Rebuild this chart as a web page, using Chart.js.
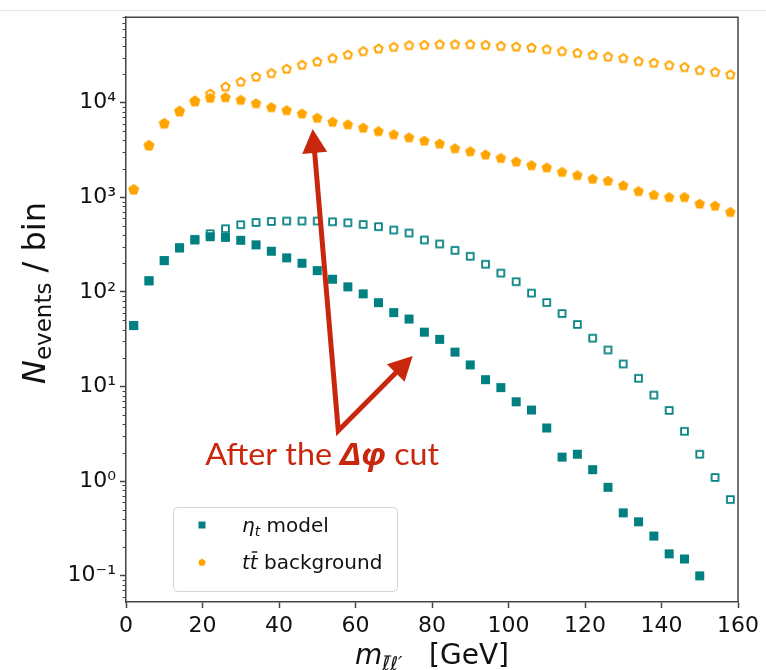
<!DOCTYPE html>
<html>
<head>
<meta charset="utf-8">
<script src="https://cdn.jsdelivr.net/npm/chart.js@4.4.0/dist/chart.umd.min.js"></script>
<style>
  html, body { margin: 0; padding: 0; background: #fff; }
  #wrap { width: 766px; height: 670px; }
</style>
</head>
<body>
<div id="wrap"><canvas id="chart" width="766" height="670"></canvas></div>
<script>
//ビン中心 m_ll' [GeV]
var mll = [2, 6, 10, 14, 18, 22, 26, 30, 34, 38, 42, 46, 50, 54, 58, 62, 66, 70, 74, 78,
           82, 86, 90, 94, 98, 102, 106, 110, 114, 118, 122, 126, 130, 134, 138, 142, 146, 150, 154, 158];

//eta_t model (after the cut, filled / before, open)
var etaCut = [44.1, 131, 214, 292, 354, 383, 377, 351, 314, 269, 229, 201, 168, 136, 113, 95.3, 76.9, 60.4, 51.6, 37.5,
              31.5, 23.1, 16.9, 11.8, 9.73, 6.89, 5.63, 3.64, 1.79, 1.92, 1.32, 0.859, 0.461, 0.371, 0.262, 0.170, 0.150, 0.0995];
var etaAll = [44.1, 131, 214, 292, 360, 412, 465, 513, 542, 555, 561, 561, 561, 551, 538, 517, 489, 451, 419, 354,
              321, 275, 238, 196, 158, 128, 97.1, 77.1, 59.0, 45.2, 32.4, 24.3, 17.3, 12.2, 8.10, 5.58, 3.36, 1.92, 1.09, 0.637];

//ttbar background (after the cut, filled / before, open)
var ttCut = [1217, 3556, 6058, 8110, 10320, 11290, 11450, 10760, 9900, 8990, 8360, 7710, 6950, 6310, 5915, 5456, 5025, 4643, 4315, 3985,
             3705, 3306, 3076, 2839, 2614, 2397, 2193, 2072, 1862, 1720, 1574, 1499, 1341, 1167, 1067, 1010, 1010, 859, 818, 702];
var ttAll = [1220, 3570, 6100, 8250, 10600, 12530, 14840, 16750, 18910, 20670, 22950, 25290, 27370, 29720, 32430, 35230, 37510, 39070, 40740, 41030,
             41700, 41700, 41700, 41030, 40070, 39370, 38430, 36980, 35230, 33800, 32200, 30910, 29720, 27660, 26540, 25100, 23920, 22230, 21190, 19990];

//軸目盛
var xTicks = [0, 20, 40, 60, 80, 100, 120, 140, 160];
var yTicks = [0.1, 1, 10, 100, 1000, 10000];
var yTickLabels = ['10\u207B\u00B9', '10\u2070', '10\u00B9', '10\u00B2', '10\u00B3', '10\u2074'];

//矢印と注記 (data coordinates)
var arrowTail = {x: 55.5, y: 3.41};
var arrowTips = [{x: 48.8, y: 5275}, {x: 74.95, y: 21.0}];
var noteAt = {x: 20.7, y: 1.46};

var TEAL = '#008080';
var ORANGE = '#ffa500';
var RED = '#c8270e';
var FONT = '"DejaVu Sans", sans-serif';

//マーカー画像
function marker(shape, size, fill, stroke, lw) {
  var c = document.createElement('canvas');
  c.width = c.height = Math.ceil(size + lw + 4);
  var g = c.getContext('2d');
  var m = c.width / 2;
  g.beginPath();
  if (shape === 'square') {
    g.rect(m - size / 2, m - size / 2, size, size);
  } else {
    for (var i = 0; i < 5; i++) {
      var a = -Math.PI / 2 + i * 2 * Math.PI / 5;
      var px = m + size / 2 * Math.cos(a), py = m + size / 2 * Math.sin(a) + size * 0.05;
      if (i) g.lineTo(px, py); else g.moveTo(px, py);
    }
    g.closePath();
  }
  g.fillStyle = fill;
  g.fill();
  if (stroke) {
    g.lineWidth = lw;
    g.strokeStyle = stroke;
    g.stroke();
  }
  return c;
}

var sqFilled = marker('square', 9, TEAL, null, 0);
var sqOpen = marker('square', 6.8, '#fff', TEAL, 1.8);
var pentFilled = marker('pent', 11, ORANGE, null, 0);
var pentOpen = marker('pent', 8.6, '#fff', ORANGE, 2);
var sqLegend = marker('square', 7, TEAL, null, 0);
var pentLegend = marker('pent', 8, ORANGE, null, 0);

function points(ys) {
  return ys.map(function (y, i) { return {x: mll[i], y: y}; });
}

//テキスト (部分ごとにフォント)
function richWidth(g, parts) {
  var w = 0;
  parts.forEach(function (p) { g.font = p.font; w += g.measureText(p.t).width; });
  return w;
}
function drawRich(g, parts, x, y) {
  parts.forEach(function (p) {
    g.font = p.font;
    g.fillText(p.t, x, y + (p.dy || 0));
    var w = g.measureText(p.t).width;
    if (p.bar) {
      g.save();
      g.lineWidth = 1.4;
      g.beginPath();
      g.moveTo(x + w * 0.25, y + (p.dy || 0) - p.bar);
      g.lineTo(x + w * 0.95, y + (p.dy || 0) - p.bar);
      g.strokeStyle = g.fillStyle;
      g.stroke();
      g.restore();
    }
    x += w;
  });
  return x;
}

var decor = {
  id: 'decor',
  beforeDraw: function (chart) {
    var g = chart.ctx;
    g.save();
    g.strokeStyle = '#e6e6e6';
    g.lineWidth = 1;
    g.beginPath();
    g.moveTo(0, 10.5);
    g.lineTo(chart.width, 10.5);
    g.stroke();
    g.restore();
  },
  afterDraw: function (chart) {
    var g = chart.ctx;
    var a = chart.chartArea;
    var xs = chart.scales.x, ys = chart.scales.y;
    g.save();

    //上と右の枠
    g.strokeStyle = '#444';
    g.lineWidth = 1.5;
    g.beginPath();
    g.moveTo(a.left, a.top);
    g.lineTo(a.right, a.top);
    g.lineTo(a.right, a.bottom);
    g.stroke();

    //補助目盛
    g.lineWidth = 1;
    g.beginPath();
    for (var d = -2; d <= 4; d++) {
      for (var k = 2; k <= 9; k++) {
        var v = k * Math.pow(10, d);
        if (v <= ys.min || v >= ys.max) continue;
        var py = Math.round(ys.getPixelForValue(v)) + 0.5;
        g.moveTo(a.left - 3.5, py);
        g.lineTo(a.left, py);
      }
    }
    g.stroke();

    //凡例
    var lx = 173.5, ly = 507.5, lw = 224, lh = 84;
    g.beginPath();
    g.roundRect(lx, ly, lw, lh, 4);
    g.fillStyle = 'rgba(255,255,255,0.8)';
    g.fill();
    g.strokeStyle = '#d4d4d4';
    g.lineWidth = 1;
    g.stroke();
    g.drawImage(sqLegend, 202 - sqLegend.width / 2, 525 - sqLegend.height / 2);
    g.drawImage(pentLegend, 202 - pentLegend.width / 2, 562 - pentLegend.height / 2);
    g.fillStyle = '#111';
    g.textBaseline = 'alphabetic';
    g.textAlign = 'left';
    drawRich(g, [
      {t: '\u03B7', font: 'italic 20px ' + FONT},
      {t: 't', font: 'italic 14px ' + FONT, dy: 4},
      {t: ' model', font: '20px ' + FONT}
    ], 242, 532);
    drawRich(g, [
      {t: 't', font: 'italic 20px ' + FONT},
      {t: 't', font: 'italic 20px ' + FONT, bar: 17},
      {t: ' background', font: '20px ' + FONT}
    ], 242, 569);

    //x軸タイトル
    var xParts = [
      {t: 'm', font: 'italic 28px ' + FONT},
      {t: '\u2113\u2113\u2032', font: 'italic 19px ' + FONT, dy: 6},
      {t: '   [GeV]', font: '28px ' + FONT}
    ];
    var xw = richWidth(g, xParts);
    var x0 = (a.left + a.right) / 2 - xw / 2;
    drawRich(g, xParts, x0, 664);
    g.font = 'italic 28px ' + FONT;
    var mw = g.measureText('m').width;
    g.font = 'italic 19px ' + FONT;
    var lw1 = g.measureText('\u2113').width;
    g.beginPath();
    g.lineWidth = 1.2;
    g.strokeStyle = '#111';
    g.moveTo(x0 + mw + 2, 656);
    g.lineTo(x0 + mw + lw1 + 1, 656);
    g.stroke();

    //y軸タイトル
    var yParts = [
      {t: 'N', font: 'italic 32px ' + FONT},
      {t: 'events', font: '23px ' + FONT, dy: 6},
      {t: ' / bin', font: '32px ' + FONT}
    ];
    var yw = richWidth(g, yParts);
    g.translate(45, 293);
    g.rotate(-Math.PI / 2);
    drawRich(g, yParts, -yw / 2, 0);
    g.setTransform(1, 0, 0, 1, 0, 0);

    //矢印
    g.fillStyle = RED;
    g.strokeStyle = RED;
    var tx = xs.getPixelForValue(arrowTail.x), ty = ys.getPixelForValue(arrowTail.y);
    var bases = arrowTips.map(function (p) {
      var hx = xs.getPixelForValue(p.x), hy = ys.getPixelForValue(p.y);
      var ang = Math.atan2(hy - ty, hx - tx);
      var len = 24, half = 12.5;
      var bx = hx - len * Math.cos(ang), by = hy - len * Math.sin(ang);
      g.beginPath();
      g.moveTo(hx, hy);
      g.lineTo(bx + half * Math.sin(ang), by - half * Math.cos(ang));
      g.lineTo(bx - half * Math.sin(ang), by + half * Math.cos(ang));
      g.closePath();
      g.fill();
      return {x: bx + 3 * Math.cos(ang), y: by + 3 * Math.sin(ang)};
    });
    g.lineWidth = 5;
    g.lineJoin = 'miter';
    g.lineCap = 'butt';
    g.beginPath();
    g.moveTo(bases[0].x, bases[0].y);
    g.lineTo(tx, ty);
    g.lineTo(bases[1].x, bases[1].y);
    g.stroke();

    //注記
    var nParts = [
      {t: 'After the ', font: '30px Lato, "Noto Sans", sans-serif'},
      {t: '\u0394\u03C6', font: 'italic bold 30px "Noto Sans", sans-serif'},
      {t: ' cut', font: '30px Lato, "Noto Sans", sans-serif'}
    ];
    var nw = richWidth(g, nParts);
    var sc = 234 / nw;
    g.translate(xs.getPixelForValue(noteAt.x), ys.getPixelForValue(noteAt.y));
    g.scale(sc, 1);
    drawRich(g, nParts, 0, 0);
    g.restore();
  }
};

var ctx = document.getElementById('chart');
var chart = new Chart(ctx, {
  type: 'scatter',
  data: {
    datasets: [{
      label: 'eta_t model',
      data: points(etaCut),
      pointStyle: sqFilled,
      pointRadius: 5,
      order: 0
    }, {
      label: 'ttbar background',
      data: points(ttCut),
      pointStyle: pentFilled,
      pointRadius: 5,
      order: 0
    }, {
      label: 'eta_t model (no cut)',
      data: points(etaAll),
      pointStyle: sqOpen,
      pointRadius: 5,
      order: 1
    }, {
      label: 'ttbar background (no cut)',
      data: points(ttAll),
      pointStyle: pentOpen,
      pointRadius: 5,
      order: 1
    }]
  },
  options: {
    responsive: false,
    animation: false,
    layout: {
      padding: {top: 14, right: 28, left: 0, bottom: 0}
    },
    plugins: {
      legend: { display: false },
      tooltip: { enabled: false }
    },
    scales: {
      x: {
        type: 'linear',
        min: 0,
        max: 160,
        afterBuildTicks: function (axis) {
          axis.ticks = xTicks.map(function (v) { return {value: v}; });
        },
        afterFit: function (axis) { axis.height = 68; },
        grid: { drawOnChartArea: false, tickLength: 6, tickColor: '#444', tickWidth: 1.5 },
        border: { display: true, color: '#444', width: 1.5 },
        ticks: {
          autoSkip: false,
          maxRotation: 0,
          padding: 5,
          color: '#111',
          font: { family: 'DejaVu Sans', size: 22 }
        }
      },
      y: {
        type: 'logarithmic',
        min: 0.0526,
        max: 80200,
        afterBuildTicks: function (axis) {
          axis.ticks = yTicks.map(function (v) { return {value: v}; });
        },
        afterFit: function (axis) { axis.width = 126; },
        grid: { drawOnChartArea: false, tickLength: 6, tickColor: '#444', tickWidth: 1.5 },
        border: { display: true, color: '#444', width: 1.5 },
        ticks: {
          autoSkip: false,
          padding: 4,
          color: '#111',
          font: { family: 'DejaVu Sans', size: 22 },
          callback: function (value, index) { return yTickLabels[index]; }
        }
      }
    }
  },
  plugins: [decor]
});
</script>
</body>
</html>
